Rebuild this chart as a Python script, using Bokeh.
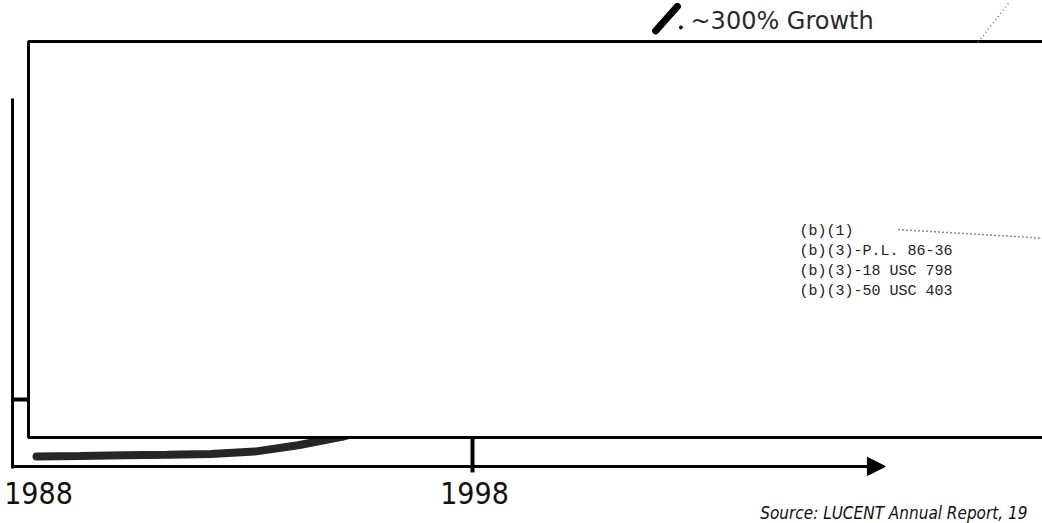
from bokeh.plotting import figure
from bokeh.models import Range1d, Arrow, NormalHead
from bokeh.core.properties import value
from bokeh.embed import file_html
from bokeh.resources import INLINE

# ---- data ----
growth_years = [1988, 1989, 1990, 1991, 1992, 1993, 1994, 1995,
                1996, 1998, 2000, 2002, 2004, 2006, 2008, 2009, 2009.6, 2010.3]
growth_values = [100, 100.4, 100.9, 101.3, 101.8, 103.5, 108, 114,
                 122, 145, 175, 212, 255, 300, 350, 380, 396, 424]
visible_solid = 8            # first points drawn as the heavy scanned band
faint_from = 16              # last points drawn as the faint dotted trace

tick_years = [1988, 1998]
tick_labels = ["1988", "1998"]

redaction_labels = ["(b)(1)", "(b)(3)-P.L. 86-36", "(b)(3)-18 USC 798", "(b)(3)-50 USC 403"]

growth_note = "~300% Growth"
source_note = "Source:  LUCENT Annual Report, 19"

# ---- figure ----
X0, X1 = 1987.1743, 2011.073
Y0, Y1 = 52.14, 425.71
p = figure(width=1042, height=523, x_range=Range1d(X0, X1), y_range=Range1d(Y0, Y1),
           output_backend="svg", toolbar_location=None,
           x_axis_type=None, y_axis_type=None, min_border=0)
p.outline_line_color = None
p.grid.visible = False
p.background_fill_color = "white"

# growth curve (heavy band visible below the redaction)
p.line(growth_years[:visible_solid], growth_values[:visible_solid],
       line_color="#262626", line_width=8, line_cap="round")
p.line(growth_years[visible_solid - 1:faint_from], growth_values[visible_solid - 1:faint_from],
       line_color="#262626", line_width=8)

# redaction box
p.quad(left=1987.817, right=2012.5, bottom=113.6, top=396.4,
       fill_color="white", line_color="black", line_width=3)

# faint trace above the box
p.line(growth_years[faint_from:], growth_values[faint_from:],
       line_color="#777777", line_width=1.5, line_dash="1 3")

# hand-drawn axes
p.segment(x0=1987.45, y0=91.4, x1=1987.45, y1=355.7, line_color="black", line_width=3)
p.segment(x0=1987.45, y0=140.7, x1=1987.817, y1=140.7, line_color="black", line_width=4)
p.add_layout(Arrow(end=NormalHead(size=18, fill_color="black", line_color="black"),
                   x_start=1987.45, y_start=92.9, x_end=2007.47, y_end=92.9,
                   line_color="black", line_width=3))
p.segment(x0=[tick_years[1]], y0=88.6, x1=[tick_years[1]], y1=113.6,
          line_color="black", line_width=4)

# year labels
p.text(x=tick_years, y=[73.9] * len(tick_years), text=tick_labels, x_offset=2,
       text_font=value("DejaVu Sans Condensed"), text_font_size="30px",
       text_align="center", text_baseline="middle", text_color="#111111")

# growth note with pen mark
p.segment(x0=2002.2, y0=404.0, x1=2002.7, y1=421.5, line_color="black", line_width=7, line_cap="round")
p.scatter(x=[2002.78], y=[406.5], size=3, color="black")
p.text(x=[2003.0], y=[411.4], text=[growth_note],
       text_font=value("DejaVu Sans"), text_font_size="24px",
       text_align="left", text_baseline="middle", text_color="#2a2a2a")

# redaction codes
ys = [260.7 - i * 14.29 for i in range(len(redaction_labels))]
p.text(x=[2005.5] * len(redaction_labels), y=ys, text=redaction_labels,
       text_font=value("Liberation Mono"), text_font_size="15px",
       text_align="left", text_baseline="middle", text_color="#222222")
p.segment(x0=2007.76, y0=262.1, x1=2011.2, y1=255.7, line_color="#8a8a8a",
          line_width=1.5, line_dash="2 2")

# source
p.text(x=[2004.6], y=[59.3], text=[source_note],
       text_font=value("DejaVu Sans Condensed"), text_font_size="17px",
       text_font_style="italic", text_align="left", text_baseline="middle",
       text_color="#111111")

open("out.html", "w").write(file_html(p, INLINE))
